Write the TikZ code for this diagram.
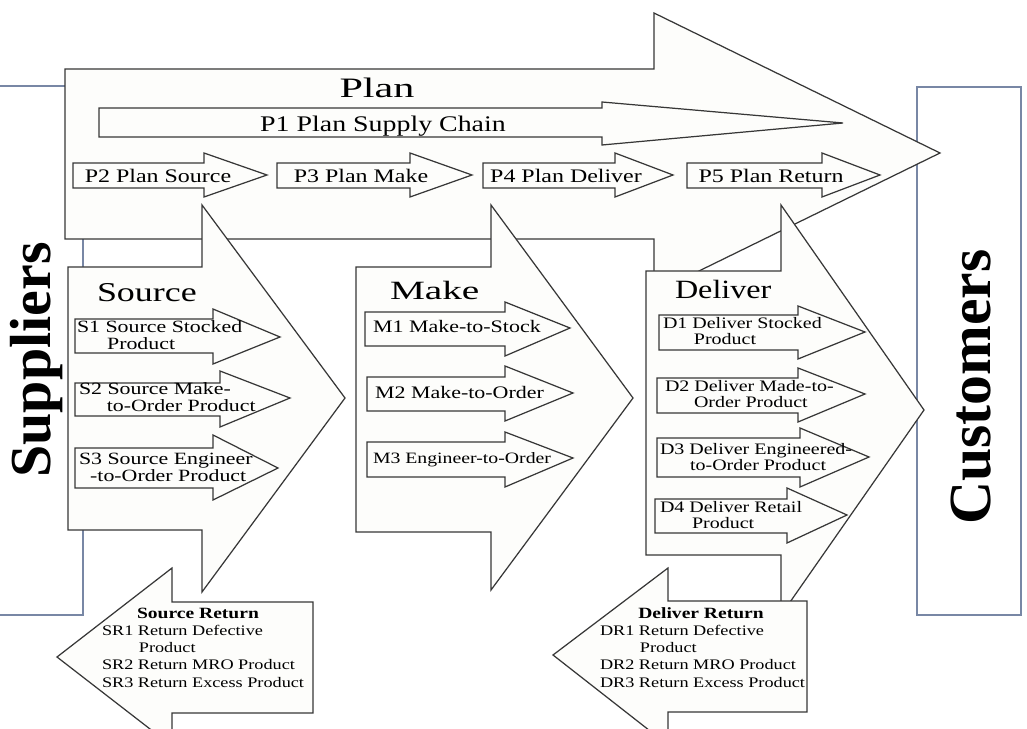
\documentclass[tikz,border=0pt]{standalone}
\usepackage{fontspec}
\setmainfont{Liberation Serif}
\definecolor{arrline}{RGB}{55,55,55}
\definecolor{arrfill}{RGB}{253,253,251}
\definecolor{boxline}{RGB}{120,135,165}
\tikzset{
  arrowshape/.style={draw=arrline, fill=arrfill, line width=0.7pt},
  sidebox/.style={draw=boxline, fill=white, line width=1pt},
  lbl/.style={inner sep=0pt, outer sep=0pt, text=black},
  plbl/.style={lbl, anchor=base, font=\fontsize{10.9}{12}\selectfont},
  slbl/.style={lbl, anchor=base west, font=\fontsize{9.8}{9.2}\selectfont},
  mlbl/.style={lbl, anchor=base west, font=\fontsize{10}{12}\selectfont},
  dlbl/.style={lbl, anchor=base west, font=\fontsize{9.1}{8.8}\selectfont},
  rtitle/.style={lbl, anchor=base, font=\bfseries\fontsize{8.9}{10}\selectfont},
  rlbl/.style={lbl, anchor=base west, font=\fontsize{8.3}{9.7}\selectfont},
  sidetext/.style={lbl, rotate=90, anchor=base, font=\bfseries\fontsize{33}{36}\selectfont},
}
% x0, top, bottom, head-back x, head top, head bottom, tip x, tip y
\newcommand\blockarrow[8]{\draw[arrowshape] (#1,#2) -- (#4,#2) -- (#4,#5) -- (#7,#8) -- (#4,#6) -- (#4,#3) -- (#1,#3) -- cycle;}
\newcommand\hs[2]{\scalebox{#1}[1]{#2}}
\newcommand\twolines[3]{\vbox{\lineskiplimit=-50pt\hbox{#1}\hbox{\hspace*{#2}#3}}}
\begin{document}
\begin{tikzpicture}[x=0.02cm, y=-0.02cm]
\useasboundingbox (0,0) rectangle (1027,729);
\fill[white] (0,0) rectangle (1027,729);
\clip (0,0) rectangle (1027,729);

% side boxes
\draw[sidebox] (-10,86) rectangle (83,615);
\draw[sidebox] (917,87) rectangle (1021,615);
\node[sidetext] (suppliers) at (50,360) {Suppliers};
\node[sidetext, font=\bfseries\fontsize{34}{36}\selectfont] (customers) at (990,387) {Customers};

% Plan
\blockarrow{65}{69}{239}{654}{13}{293}{940}{153}
\node[lbl, anchor=base, font=\fontsize{16}{18}\selectfont] (plan) at (377,98) {\hs{1.5}{Plan}};
\blockarrow{99}{108}{137}{602}{102}{145}{843}{123}
\node[lbl, anchor=base, font=\fontsize{12.7}{14}\selectfont] (p1) at (383,132) {\hs{1.25}{P1 Plan Supply Chain}};
\blockarrow{73}{163}{188}{204}{153}{197}{267}{175}
\blockarrow{277}{163}{188}{410}{153}{197}{472}{175}
\blockarrow{483}{163}{188}{615}{153}{197}{673}{175}
\blockarrow{687}{163}{188}{822}{153}{197}{880}{175}
\node[plbl] (p2) at (158,183) {\hs{1.25}{P2 Plan Source}};
\node[plbl] (p3) at (361,183) {\hs{1.25}{P3 Plan Make}};
\node[plbl] (p4) at (566,183) {\hs{1.25}{P4 Plan Deliver}};
\node[plbl] (p5) at (771,183) {\hs{1.25}{P5 Plan Return}};

% Source
\blockarrow{68}{267}{530}{202}{205}{592}{345}{398}
\node[lbl, anchor=base west, font=\fontsize{15.5}{17}\selectfont] (source) at (97,302) {\hs{1.32}{Source}};
\blockarrow{75}{319}{353}{213}{309}{364}{280}{337}
\blockarrow{75}{383}{416}{220}{371}{427}{290}{398}
\blockarrow{75}{448}{488}{213}{435}{500}{278}{468}
\node[slbl] (s1) at (77,349) {\hs{1.27}{\twolines{S1 Source Stocked}{13.5pt}{Product}}};
\node[slbl] (s2) at (79,411) {\hs{1.27}{\twolines{S2 Source Make-}{12.5pt}{to-Order Product}}};
\node[slbl] (s3) at (79,481) {\hs{1.27}{\twolines{S3 Source Engineer}{5pt}{-to-Order Product}}};

% Make
\blockarrow{356}{267}{532}{491}{205}{590}{633}{398}
\node[lbl, anchor=base west, font=\fontsize{15}{17}\selectfont] (make) at (390,299) {\hs{1.49}{Make}};
\blockarrow{365}{312}{346}{505}{302}{356}{570}{328}
\blockarrow{367}{377}{411}{505}{366}{421}{573}{393}
\blockarrow{367}{442}{477}{505}{432}{487}{573}{458}
\node[mlbl] (m1) at (373,333) {\hs{1.25}{M1 Make-to-Stock}};
\node[mlbl] (m2) at (375,398) {\hs{1.25}{M2 Make-to-Order}};
\node[mlbl, font=\fontsize{9}{11}\selectfont] (m3) at (373,463) {\hs{1.25}{M3 Engineer-to-Order}};

% Deliver
\blockarrow{646}{271}{555}{781}{205}{615}{924}{410}
\node[lbl, anchor=base west, font=\fontsize{15}{17}\selectfont] (deliver) at (675,298) {\hs{1.22}{Deliver}};
\blockarrow{659}{315}{350}{798}{306}{359}{865}{332}
\blockarrow{657}{378}{413}{798}{368}{422}{865}{394}
\blockarrow{657}{438}{477}{800}{428}{487}{869}{457}
\blockarrow{655}{499}{533}{787}{488}{543}{847}{515}
\node[dlbl] (d1) at (663,344) {\hs{1.25}{\twolines{D1 Deliver Stocked}{14.1pt}{Product}}};
\node[dlbl] (d2) at (665,407) {\hs{1.25}{\twolines{D2 Deliver Made-to-}{13.2pt}{Order Product}}};
\node[dlbl] (d3) at (660,470) {\hs{1.25}{\twolines{D3 Deliver Engineered-}{13.7pt}{to-Order Product}}};
\node[dlbl] (d4) at (660,528) {\hs{1.25}{\twolines{D4 Deliver Retail}{14.6pt}{Product}}};

% Returns
\blockarrow{313}{602}{713}{172}{568}{746}{57}{657}
\node[rtitle] (srt) at (198,618) {\hs{1.25}{Source Return}};
\node[rlbl] (sr) at (102,687) {\hs{1.25}{\vbox{\lineskiplimit=-50pt\hbox{SR1 Return Defective}\hbox{\hspace*{16.8pt}Product}\hbox{SR2 Return MRO Product}\hbox{SR3 Return Excess Product}}}};
\blockarrow{807}{601}{712}{668}{568}{745}{553}{655}
\node[rtitle] (drt) at (701,618) {\hs{1.25}{Deliver Return}};
\node[rlbl] (dr) at (600,687) {\hs{1.25}{\vbox{\lineskiplimit=-50pt\hbox{DR1 Return Defective}\hbox{\hspace*{18.2pt}Product}\hbox{DR2 Return MRO Product}\hbox{DR3 Return Excess Product}}}};
\end{tikzpicture}
\end{document}
